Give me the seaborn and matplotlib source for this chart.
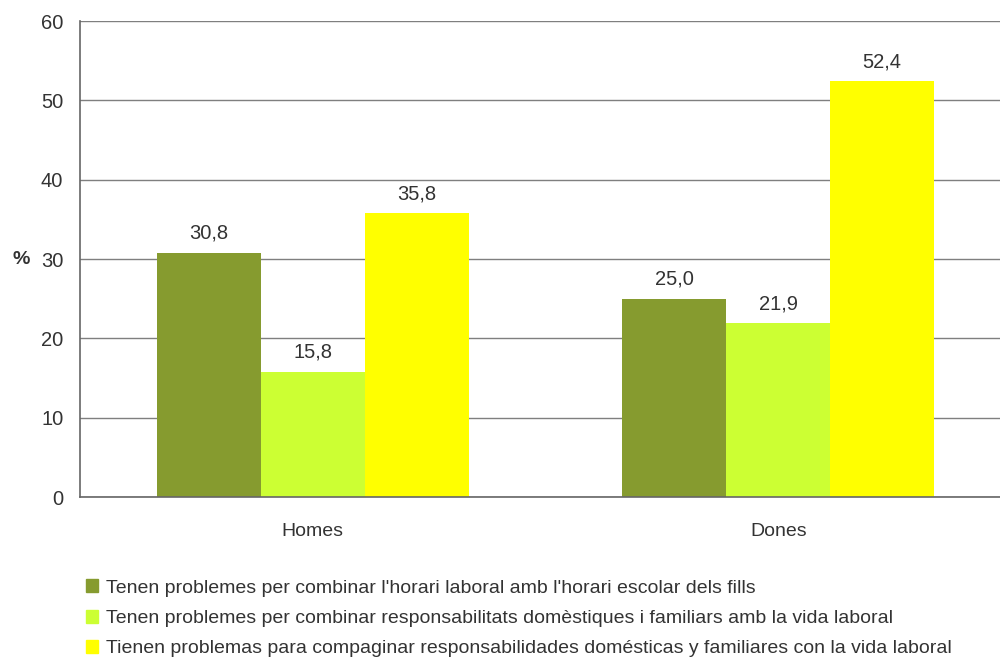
import pandas as pd
import seaborn as sns
import matplotlib.pyplot as plt
from matplotlib.ticker import FixedLocator

# --- dades ---
grups = ['Homes', 'Dones']
series = [
    "Tenen problemes per combinar l'horari laboral amb l'horari escolar dels fills",
    "Tenen problemes per combinar responsabilitats domèstiques i familiars amb la vida laboral",
    "Tienen problemas para compaginar responsabilidades domésticas y familiares con la vida laboral",
]
valors_horari = [30.8, 25.0]
valors_resp_cat = [15.8, 21.9]
valors_resp_cast = [35.8, 52.4]
colors = ['#869B2F', '#CCFF33', '#FFFF00']

TEXT = '#333333'
GRID = '#7f7f7f'


def build_df():
    rows = []
    for serie, vals in zip(series, [valors_horari, valors_resp_cat, valors_resp_cast]):
        for g, v in zip(grups, vals):
            rows.append({'grup': g, 'serie': serie, 'valor': v})
    return pd.DataFrame(rows)


df = build_df()

sns.set_theme(style='white')
plt.rcParams['font.family'] = ['Liberation Sans', 'DejaVu Sans']

fig = plt.figure(figsize=(10, 6.57), dpi=100)
# l'eix continua una mica més enllà de la vora dreta de la imatge
ax = fig.add_axes([0.08, 0.2435, 0.931, 0.7245])

sns.barplot(data=df, x='grup', y='valor', hue='serie', hue_order=series,
            order=grups, palette=colors, width=0.67, saturation=1,
            linewidth=0, ax=ax, legend=False)

for cont in ax.containers:
    ax.bar_label(cont, labels=[f"{b.get_height():.1f}".replace('.', ',') for b in cont],
                 padding=7, fontsize=14.5, color=TEXT)

ax.set_ylim(0, 60)
ax.set_yticks(range(0, 61, 10))
ax.set_xlim(-0.5, 1.5)
ax.yaxis.grid(True, color=GRID, linewidth=1)
ax.set_axisbelow(True)

for s in ['top', 'right']:
    ax.spines[s].set_visible(False)
for s in ['left', 'bottom']:
    ax.spines[s].set_color('#666666')
    ax.spines[s].set_linewidth(1.2)

ax.tick_params(axis='y', which='major', direction='out', length=6, width=1,
               color='#666666', labelsize=14.5, labelcolor=TEXT, pad=6)
ax.tick_params(axis='x', which='major', length=0, labelsize=14, labelcolor=TEXT, pad=19)
ax.xaxis.set_minor_locator(FixedLocator([-0.5, 0.5, 1.5]))
ax.tick_params(axis='x', which='minor', direction='out', length=6, width=1.2, color='#666666')

ax.set_xlabel('')
ax.set_ylabel('%', rotation=0, fontsize=14, fontweight='bold', color=TEXT, labelpad=14,
              va='center')

handles = [plt.Rectangle((0, 0), 1, 1, color=c) for c in colors]
fig.legend(handles, series, loc='upper left', bbox_to_anchor=(0.078, 0.13),
           frameon=False, fontsize=14, handlelength=0.65, handleheight=0.65,
           handletextpad=0.4, labelspacing=0.67, borderaxespad=0,
           labelcolor=TEXT)

fig.savefig('out.png', dpi=100)
